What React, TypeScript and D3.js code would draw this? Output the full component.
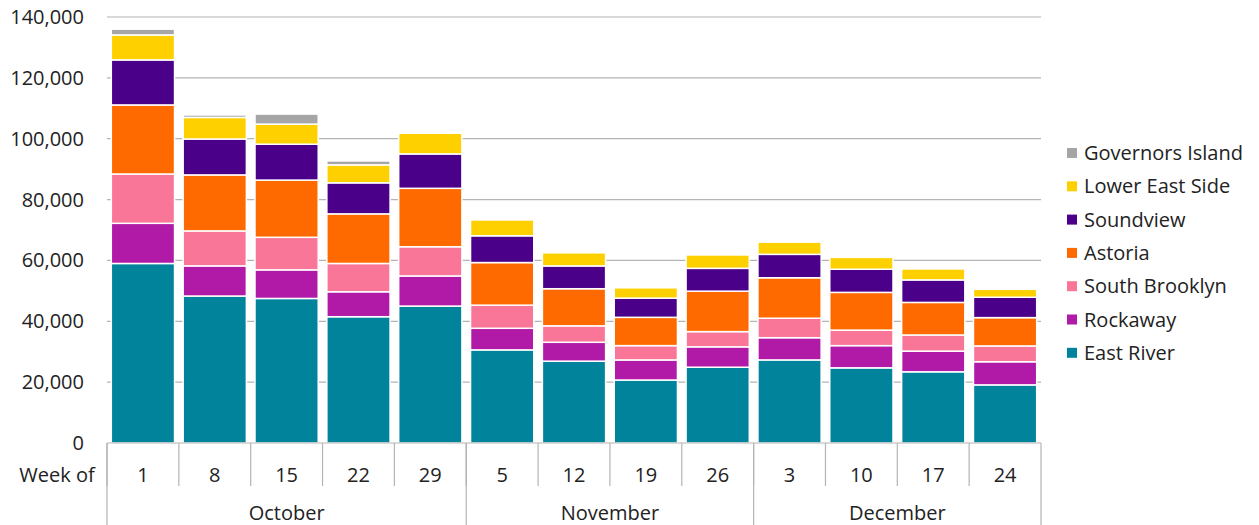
import * as React from 'react';
import * as d3 from 'd3';

const weeks = ['1', '8', '15', '22', '29', '5', '12', '19', '26', '3', '10', '17', '24'];
const months = [
  { name: 'October', count: 5 },
  { name: 'November', count: 4 },
  { name: 'December', count: 4 },
];

// values in thousands of visits
const eastRiver = [59.0, 48.3, 47.5, 41.5, 45.0, 30.6, 26.9, 20.7, 24.9, 27.3, 24.7, 23.4, 19.1];
const rockaway = [13.2, 9.9, 9.4, 8.2, 9.9, 7.1, 6.2, 6.6, 6.7, 7.3, 7.3, 6.8, 7.6];
const southBrooklyn = [16.2, 11.5, 10.7, 9.3, 9.6, 7.6, 5.4, 4.7, 5.0, 6.4, 5.1, 5.3, 5.2];
const astoria = [22.7, 18.4, 18.8, 16.3, 19.2, 14.0, 12.2, 9.3, 13.3, 13.3, 12.4, 10.7, 9.3];
const soundview = [14.8, 11.8, 11.8, 10.2, 11.3, 8.8, 7.5, 6.3, 7.5, 7.7, 7.6, 7.4, 6.7];
const lowerEastSide = [8.2, 7.1, 6.6, 5.9, 6.8, 5.2, 4.3, 3.4, 4.4, 4.0, 3.9, 3.6, 2.6];
const governorsIsland = [1.9, 0.8, 3.3, 1.3, 0, 0, 0, 0, 0, 0, 0, 0, 0];

const yTicks = [0, 20000, 40000, 60000, 80000, 100000, 120000, 140000];

const series = [
  { key: 'East River', values: eastRiver, color: '#00839b' },
  { key: 'Rockaway', values: rockaway, color: '#b01aa7' },
  { key: 'South Brooklyn', values: southBrooklyn, color: '#fa7699' },
  { key: 'Astoria', values: astoria, color: '#ff6a00' },
  { key: 'Soundview', values: soundview, color: '#4b0089' },
  { key: 'Lower East Side', values: lowerEastSide, color: '#ffd000' },
  { key: 'Governors Island', values: governorsIsland, color: '#a6a6a6' },
];

const W = 1259;
const H = 525;
const left = 107;
const right = 1041;
const top = 17;
const bottom = 443;
const font = '"Open Sans", sans-serif';

export default function App() {
  const x = d3.scaleBand<number>()
    .domain(d3.range(weeks.length))
    .range([left, right])
    .paddingInner(0.12)
    .paddingOuter(0.06);
  const y = d3.scaleLinear().domain([0, 140000]).range([bottom, top]);
  const step = x.step();

  const rows = weeks.map((w, i) => {
    const r: any = { i };
    series.forEach(s => { r[s.key] = s.values[i] * 1000; });
    return r;
  });
  const stacked = d3.stack<any>().keys(series.map(s => s.key))(rows);

  const fmt = d3.format(',');
  let monthStart = 0;

  return (
    <svg width={W} height={H} style={{ position: 'absolute', left: 0, top: 0, background: '#fff' }}
      fontFamily={font}>
      {yTicks.map(t => (
        <g key={t}>
          {t > 0 && <line x1={left} x2={right} y1={y(t)} y2={y(t)} stroke="#b4b4b4" strokeWidth={1.2} />}
          <text x={84} y={y(t)} dy="0.35em" textAnchor="end" fontSize={20} fill="#222">{fmt(t)}</text>
        </g>
      ))}
      {stacked.map((layer, si) => (
        <g key={layer.key} fill={series[si].color}>
          {layer.map((d, i) => d[1] - d[0] > 0 ? (
            <rect key={i} x={x(i)} y={y(d[1])} width={x.bandwidth()}
              height={y(d[0]) - y(d[1])} stroke="#fff" strokeWidth={1.5} />
          ) : null)}
        </g>
      ))}
      <line x1={left} x2={right} y1={bottom} y2={bottom} stroke="#b4b4b4" strokeWidth={1.2} />
      {weeks.map((w, i) => (
        <g key={'w' + i}>
          <line x1={left + i * step} x2={left + i * step} y1={bottom} y2={486} stroke="#b4b4b4" strokeWidth={1.2} />
          <text x={left + (i + 0.5) * step} y={475} dy="0.35em" textAnchor="middle" fontSize={20} fill="#222">{w}</text>
        </g>
      ))}
      <text x={57} y={475} dy="0.35em" textAnchor="middle" fontSize={20} fill="#222">Week of</text>
      {months.map(m => {
        const s = monthStart;
        monthStart += m.count;
        return (
          <g key={m.name}>
            <line x1={left + s * step} x2={left + s * step} y1={bottom} y2={H} stroke="#b4b4b4" strokeWidth={1.2} />
            <text x={left + (s + m.count / 2) * step} y={513} dy="0.35em" textAnchor="middle" fontSize={20} fill="#222">{m.name}</text>
          </g>
        );
      })}
      <line x1={left + weeks.length * step} x2={left + weeks.length * step} y1={bottom} y2={H} stroke="#b4b4b4" strokeWidth={1.2} />
      {series.slice().reverse().map((s, i) => (
        <g key={s.key} transform={`translate(1067,${153 + i * 33.3})`}>
          <rect x={0} y={-5} width={10} height={10} fill={s.color} />
          <text x={17} y={0} dy="0.35em" fontSize={20} fill="#222">{s.key}</text>
        </g>
      ))}
    </svg>
  );
}
